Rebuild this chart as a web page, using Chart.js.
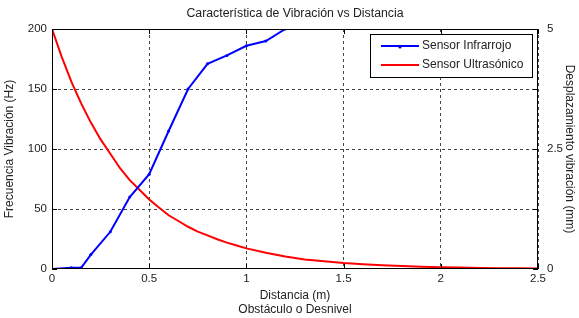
<!DOCTYPE html>
<html><head><meta charset="utf-8">
<script src="https://cdn.jsdelivr.net/npm/chart.js@4"></script>
<style>html,body{margin:0;padding:0;background:#fff}#w{width:579px;height:318px}</style>
</head><body><div id="w"><canvas id="c"></canvas></div>
<script>
const titleText = 'Característica de Vibración vs Distancia';
const xTitle = ['Distancia (m)', 'Obstáculo o Desnivel'];
const yLeftTitle = 'Frecuencia Vibración (Hz)';
const yRightTitle = 'Desplazamiento vibración (mm)';
const seriesNames = ['Sensor Infrarrojo', 'Sensor Ultrasónico'];

// Sensor Infrarrojo (Hz, left axis)
const irDist = [0, 0.1, 0.15, 0.2, 0.3, 0.4, 0.5, 0.6, 0.7, 0.8, 0.9, 1.0, 1.1, 1.2];
const irFreq = [0, 1, 1, 12, 31, 60, 79, 115, 150, 171, 178, 186, 190, 200];

// Sensor Ultrasónico (mm, right axis)
const usDist = [0, 0.05, 0.1, 0.15, 0.2, 0.25, 0.3, 0.35, 0.4, 0.45, 0.5, 0.55, 0.6, 0.65, 0.7, 0.75, 0.8, 0.85, 0.9, 0.95, 1.0, 1.1, 1.2, 1.3, 1.4, 1.5, 1.6, 1.7, 1.8, 1.9, 2.0, 2.1, 2.2, 2.3, 2.4, 2.5];
const usDisp = [5.0, 4.42, 3.9, 3.45, 3.05, 2.7, 2.4, 2.1, 1.85, 1.65, 1.45, 1.28, 1.12, 1.0, 0.88, 0.78, 0.7, 0.62, 0.55, 0.49, 0.43, 0.34, 0.26, 0.2, 0.16, 0.125, 0.1, 0.078, 0.06, 0.048, 0.038, 0.03, 0.023, 0.018, 0.014, 0.01];

const xTicks = [0, 0.5, 1, 1.5, 2, 2.5];
const yLeftTicks = [0, 50, 100, 150, 200];
const yRightLabels = [0, 2.5, 5];

const FONT = 'Liberation Sans, Arial, sans-serif';
const TXT = '#222';

const edgeTransparent = (ctx) => (ctx.index === 0 || ctx.tick === undefined) ? 'rgba(0,0,0,0)' : '#444';

const framePlugin = {
  id: 'frame',
  afterDraw(chart) {
    const {ctx, chartArea: a} = chart;
    ctx.save();
    ctx.fillStyle = TXT;
    ctx.font = '12.3px ' + FONT;
    ctx.textAlign = 'center';
    ctx.textBaseline = 'middle';
    ctx.fillText(titleText, (a.left + a.right) / 2, 14);
    ctx.strokeStyle = '#000';
    ctx.lineWidth = 1;
    ctx.setLineDash([]);
    ctx.strokeRect(a.left + 0.5, a.top + 0.5, a.right - a.left - 1, a.bottom - a.top - 1);
    const tl = 5;
    ctx.beginPath();
    const xs = chart.scales.x, yl = chart.scales.y, yr = chart.scales.y2;
    xTicks.forEach(v => { const p = Math.round(xs.getPixelForValue(v)) + 0.5;
      ctx.moveTo(p, a.bottom); ctx.lineTo(p, a.bottom - tl);
      ctx.moveTo(p, a.top); ctx.lineTo(p, a.top + tl); });
    yLeftTicks.forEach(v => { const p = Math.round(yl.getPixelForValue(v)) + 0.5;
      ctx.moveTo(a.left, p); ctx.lineTo(a.left + tl, p); });
    [0, 1.25, 2.5, 3.75, 5].forEach(v => { const p = Math.round(yr.getPixelForValue(v)) + 0.5;
      ctx.moveTo(a.right, p); ctx.lineTo(a.right - tl, p); });
    ctx.stroke();
    const lx = 370, ly = 34, lw = 162, lh = 43;
    ctx.fillStyle = '#fff';
    ctx.fillRect(lx, ly, lw, lh);
    ctx.strokeStyle = '#000';
    ctx.strokeRect(lx + 0.5, ly + 0.5, lw, lh);
    const ds = chart.data.datasets;
    [46, 65].forEach((y, i) => {
      ctx.strokeStyle = ds[i].borderColor;
      ctx.lineWidth = 2;
      ctx.beginPath(); ctx.moveTo(381, y); ctx.lineTo(419, y); ctx.stroke();
      if (i === 0) { ctx.fillStyle = ds[i].borderColor; ctx.beginPath(); ctx.arc(400, y + 1, 1.6, 0, Math.PI * 2); ctx.fill(); }
      ctx.fillStyle = TXT;
      ctx.font = '12px ' + FONT;
      ctx.textAlign = 'left';
      ctx.fillText(ds[i].label, 422, y);
    });
    ctx.restore();
  }
};

new Chart(document.getElementById('c'), {
  type: 'scatter',
  data: {
    datasets: [
      { label: seriesNames[0], data: irDist.map((x, i) => ({x, y: irFreq[i]})), showLine: true,
        borderColor: '#0000ff', backgroundColor: '#0000ff', borderWidth: 2, pointRadius: 1.5, pointBorderWidth: 0, yAxisID: 'y', order: 1 },
      { label: seriesNames[1], data: usDist.map((x, i) => ({x, y: usDisp[i]})), showLine: true,
        borderColor: '#ff0000', backgroundColor: '#ff0000', borderWidth: 2, pointRadius: 0, yAxisID: 'y2', order: 2 }
    ]
  },
  options: {
    responsive: true, maintainAspectRatio: false, animation: false,
    layout: { padding: { top: 29, left: 0, right: 0, bottom: 0 } },
    plugins: { legend: { display: false }, title: { display: false }, tooltip: { enabled: false } },
    scales: {
      x: {
        type: 'linear', min: 0, max: 2.5,
        afterFit(s) { s.height = 49; },
        afterBuildTicks(s) { s.ticks = xTicks.map(v => ({value: v})); },
        ticks: { color: TXT, font: { family: FONT, size: 11.5 }, padding: 3, maxRotation: 0, callback: v => String(v) },
        grid: { color: edgeTransparent, drawTicks: false, lineWidth: 1 },
        border: { display: false, dash: [3, 3] },
        title: { display: true, text: xTitle, color: TXT, font: { family: FONT, size: 12, lineHeight: 1.2 }, padding: { top: 0, bottom: 1 } }
      },
      y: {
        type: 'linear', position: 'left', min: 0, max: 200,
        afterFit(s) { s.width = 52; },
        afterBuildTicks(s) { s.ticks = yLeftTicks.map(v => ({value: v})); },
        ticks: { color: TXT, font: { family: FONT, size: 11.5 }, padding: 5 },
        grid: { color: edgeTransparent, drawTicks: false, lineWidth: 1 },
        border: { display: false, dash: [3, 3] },
        title: { display: true, text: yLeftTitle, color: TXT, font: { family: FONT, size: 12 }, padding: { top: 2, bottom: 2 } }
      },
      y2: {
        type: 'linear', position: 'right', min: 0, max: 5,
        afterFit(s) { s.width = 41; },
        afterBuildTicks(s) { s.ticks = yRightLabels.map(v => ({value: v})); },
        ticks: { color: TXT, font: { family: FONT, size: 11.5 }, padding: 9, callback: v => String(v) },
        grid: { display: false, drawTicks: false },
        border: { display: false },
        title: { display: true, text: yRightTitle, color: TXT, font: { family: FONT, size: 12 }, padding: { top: 2, bottom: 2 } }
      }
    }
  },
  plugins: [framePlugin]
});
</script>
</body></html>
